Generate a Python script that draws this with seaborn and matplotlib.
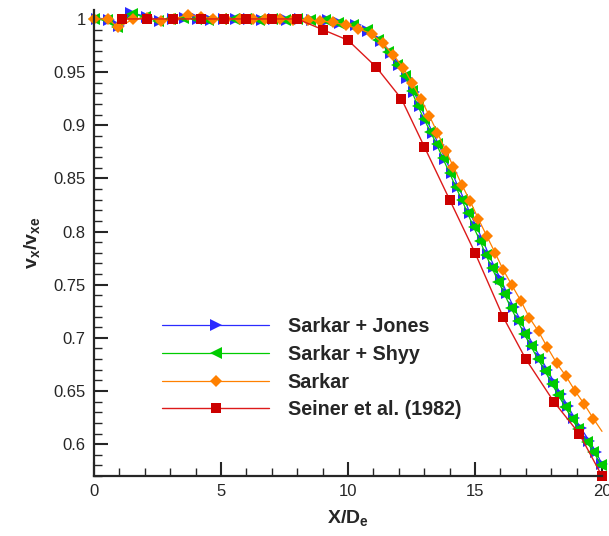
import numpy as np
import pandas as pd
import matplotlib
matplotlib.use('Agg')
import matplotlib.pyplot as plt
from matplotlib.ticker import MultipleLocator, FormatStrFormatter
import seaborn as sns

sns.set_style('ticks')
plt.rcParams['font.family'] = ['Liberation Sans', 'DejaVu Sans']
plt.rcParams['mathtext.fontset'] = 'custom'
plt.rcParams['mathtext.rm'] = 'Liberation Sans'
plt.rcParams['mathtext.bf'] = 'Liberation Sans:bold'

# Sarkar + Jones
x_jones = [0.1, 0.6, 1.0, 1.45, 2.1, 2.6, 3.1, 3.6, 4.1, 4.6, 5.1, 5.6, 6.1, 6.6, 7.1, 7.6, 8.1, 8.6, 9.2, 9.7,
           10.3, 10.8, 11.3, 11.7, 12.0, 12.33, 12.6, 12.85, 13.09, 13.34, 13.59, 13.83, 14.1, 14.34, 14.58,
           14.81, 15.05, 15.3, 15.53, 15.76, 16.02, 16.26, 16.52, 16.78, 17.03, 17.3, 17.58, 17.85, 18.12,
           18.38, 18.65, 18.91, 19.17, 19.5, 19.76, 20.0]
y_jones = [1.0, 0.999, 0.993, 1.006, 1.002, 0.998, 1.0, 1.001, 1.0, 0.999, 1.0, 1.0, 1.0, 0.999, 1.0, 0.999,
           1.0, 0.999, 0.999, 0.996, 0.994, 0.989, 0.979, 0.968, 0.957, 0.944, 0.931, 0.918, 0.905, 0.893,
           0.881, 0.868, 0.855, 0.842, 0.830, 0.817, 0.805, 0.792, 0.779, 0.767, 0.755, 0.742, 0.729, 0.717,
           0.705, 0.693, 0.681, 0.670, 0.658, 0.647, 0.636, 0.625, 0.615, 0.603, 0.593, 0.581]

# Sarkar + Shyy
x_shyy = [0, 0.5, 0.9, 1.5, 2.0, 2.5, 3.0, 3.5, 4.0, 4.5, 5.0, 5.5, 6.0, 6.5, 7.0, 7.5, 8.0, 8.5, 9.09, 9.62,
          10.2, 10.74, 11.19, 11.59, 11.92, 12.24, 12.51, 12.75, 12.99, 13.24, 13.49, 13.73, 14.0, 14.24,
          14.48, 14.71, 14.95, 15.2, 15.43, 15.66, 15.92, 16.16, 16.42, 16.68, 16.93, 17.2, 17.48, 17.75,
          18.02, 18.28, 18.55, 18.81, 19.07, 19.4, 19.66, 19.98]
y_shyy = [1.0, 0.999, 0.992, 1.005, 1.002, 0.998, 1.0, 1.001, 1.0, 0.999, 1.0, 1.0, 1.0, 0.999, 1.0, 0.999,
          1.0, 0.999, 0.999, 0.996, 0.994, 0.990, 0.980, 0.969, 0.957, 0.946, 0.932, 0.918, 0.906, 0.894,
          0.882, 0.869, 0.855, 0.842, 0.830, 0.817, 0.804, 0.791, 0.778, 0.766, 0.753, 0.741, 0.728, 0.716,
          0.704, 0.692, 0.680, 0.669, 0.657, 0.646, 0.635, 0.624, 0.614, 0.602, 0.593, 0.580]

# Sarkar
x_sarkar = [0, 0.55, 0.95, 1.55, 2.1, 2.65, 3.15, 3.7, 4.2, 4.7, 5.2, 5.73, 6.25, 6.73, 7.32, 7.85, 8.44, 8.9,
            9.42, 9.92, 10.41, 10.93, 11.37, 11.79, 12.18, 12.51, 12.86, 13.2, 13.52, 13.85, 14.15, 14.48,
            14.80, 15.13, 15.46, 15.79, 16.11, 16.44, 16.80, 17.14, 17.50, 17.85, 18.22, 18.58, 18.94, 19.29,
            19.66, 20.0]
y_sarkar = [1.0, 1.0, 0.992, 1.0, 1.001, 0.998, 1.0, 1.004, 1.002, 1.0, 1.0, 1.0, 1.0, 1.0, 1.0, 0.999, 0.999,
            0.998, 0.997, 0.994, 0.991, 0.986, 0.977, 0.966, 0.954, 0.940, 0.925, 0.909, 0.893, 0.876, 0.861,
            0.844, 0.829, 0.812, 0.796, 0.780, 0.764, 0.750, 0.735, 0.719, 0.706, 0.691, 0.676, 0.664, 0.650,
            0.638, 0.624, 0.612]

# Seiner et al. (1982)
x_seiner = [1.1, 2.1, 3.1, 4.2, 5.1, 6.0, 7.0, 8.0, 9.0, 10.0, 11.1, 12.1, 13.0, 14.0, 15.0, 16.1, 17.0,
            18.1, 19.1, 20.0]
y_seiner = [1.0, 1.0, 1.0, 1.0, 1.0, 1.0, 1.0, 1.0, 0.99, 0.98, 0.955, 0.925, 0.88, 0.83, 0.78, 0.72, 0.68,
            0.64, 0.61, 0.57]

labels = ['Sarkar + Jones', 'Sarkar + Shyy', 'Sarkar', 'Seiner et al. (1982)']

fig = plt.figure(figsize=(6.09, 5.36), dpi=100)
ax = fig.add_axes([0.1544, 0.1119, 0.8341, 0.8694])

sns.lineplot(x=x_jones, y=y_jones, ax=ax, estimator=None, color='#2b2bff', lw=0.9,
             marker='>', ms=8.5, mec='#2b2bff', mew=0, label=labels[0], clip_on=False)
sns.lineplot(x=x_shyy, y=y_shyy, ax=ax, estimator=None, color='#00cc00', lw=0.9,
             marker='<', ms=8.5, mec='#00cc00', mew=0, label=labels[1], clip_on=False)
sns.lineplot(x=x_sarkar, y=y_sarkar, ax=ax, estimator=None, color='#ff8000', lw=0.9,
             marker='D', ms=6.5, mec='#ff8000', mew=0, label=labels[2], clip_on=False,
             markevery=list(range(len(x_sarkar) - 1)))
sns.lineplot(x=x_seiner, y=y_seiner, ax=ax, estimator=None, color='#dd1a1a', lw=1.0,
             marker='s', ms=7.2, mec='#cc0000', mfc='#cc0000', mew=0, label=labels[3], clip_on=False)

ax.set_xlim(0, 20)
ax.set_ylim(0.57, 1.0084)
ax.xaxis.set_major_locator(MultipleLocator(5))
ax.xaxis.set_minor_locator(MultipleLocator(1))
ax.yaxis.set_major_locator(MultipleLocator(0.05))
ax.yaxis.set_minor_locator(MultipleLocator(0.01))
ax.yaxis.set_major_formatter(FormatStrFormatter('%g'))
ax.tick_params(which='major', direction='in', length=10, width=1.5, labelsize=12, pad=6)
ax.tick_params(which='minor', direction='in', length=6, width=1.0)
sns.despine(ax=ax)
for s in ['left', 'bottom']:
    ax.spines[s].set_linewidth(1.6)

ax.set_xlabel(r'$\mathbf{X/D_e}$', fontsize=14, labelpad=6)
ax.set_ylabel(r'$\mathbf{v_x/v_{xe}}$', fontsize=14, labelpad=8)

ax.legend(loc='upper left', bbox_to_anchor=(0.115, 0.362), frameon=False, numpoints=1,
          handlelength=5.4, handletextpad=0.95, labelspacing=0.44, borderpad=0,
          prop={'weight': 'bold', 'size': 14.2})

fig.savefig('out.png', dpi=100)
